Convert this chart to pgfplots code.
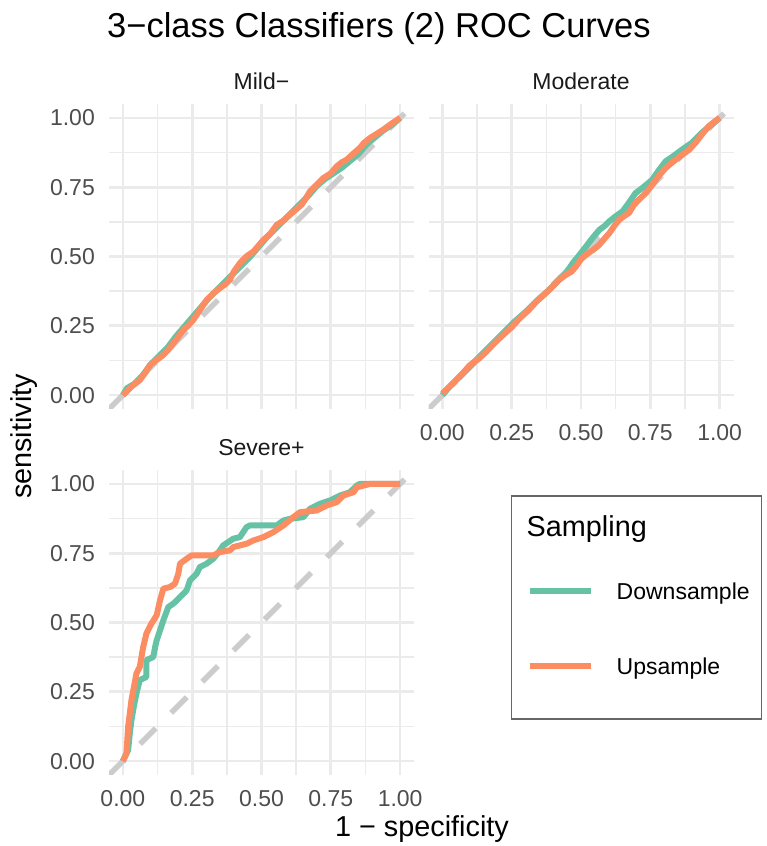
\documentclass[border=0pt]{standalone}
\usepackage{pgfplots}
\pgfplotsset{compat=1.18}
\usepackage{fontspec}
\setmainfont{Liberation Sans}
\definecolor{cgreen}{HTML}{66C2A5}
\definecolor{corange}{HTML}{FC8D62}
\definecolor{gridc}{HTML}{EBEBEB}
\definecolor{tickc}{HTML}{4D4D4D}
\definecolor{stripc}{HTML}{1A1A1A}
\definecolor{diagc}{HTML}{CCCCCC}
\definecolor{legc}{HTML}{666666}

\pgfplotsset{
 panel/.style={
  scale only axis, width=305bp, height=305bp,
  xmin=-0.05,xmax=1.05,ymin=-0.05,ymax=1.05,
  axis line style={draw=none},
  major tick length=0pt, minor tick length=0pt,
  tick style={draw=none},
  xtick={0,0.25,0.5,0.75,1}, ytick={0,0.25,0.5,0.75,1},
  minor xtick={0.125,0.375,0.625,0.875}, minor ytick={0.125,0.375,0.625,0.875},
  grid=both,
  major grid style={draw=gridc, line width=2.7bp},
  minor grid style={draw=gridc, line width=1.35bp},
  ticklabel style={font=\fontsize{23bp}{27bp}\selectfont, text=tickc, inner sep=0pt},
  xticklabel style={anchor=north, yshift=-15bp},
  yticklabel style={anchor=east, xshift=-14bp},
  xticklabels={0.00,0.25,0.50,0.75,1.00},
  yticklabels={0.00,0.25,0.50,0.75,1.00},
  every axis title/.style={at={(0.5,1)}, anchor=base, yshift=14.7bp, inner sep=0pt, font=\fontsize{23bp}{27bp}\selectfont, text=stripc},
 },
 diag/.style={draw=diagc, line width=5.5bp, dash pattern=on 22bp off 22bp, line cap=butt, forget plot},
 roc/.style={line width=6bp, line join=round, mark=none},
}

\begin{document}
\begin{tikzpicture}
\useasboundingbox (0,0) rectangle (767bp,846bp);

% Mild-
\begin{axis}[panel, at={(109bp,437bp)}, anchor=south west, xticklabels={}, title={Mild−}]
\addplot[diag] coordinates {(-0.05,-0.05) (1.05,1.05)};
\addplot[roc, cgreen] coordinates {
(0,0) (0.015,0.025) (0.04,0.04) (0.07,0.07) (0.1,0.11) (0.13,0.14) (0.16,0.17) (0.19,0.21) (0.22,0.245) (0.25,0.28) (0.28,0.315) (0.31,0.35) (0.34,0.38) (0.37,0.41) (0.40,0.44) (0.43,0.47) (0.46,0.50) (0.49,0.535) (0.52,0.57) (0.55,0.60) (0.58,0.63) (0.61,0.66) (0.64,0.69) (0.67,0.72) (0.70,0.755) (0.73,0.78) (0.76,0.80) (0.79,0.82) (0.82,0.845) (0.85,0.87) (0.88,0.905) (0.91,0.93) (0.94,0.955) (0.97,0.975) (1,1)};
\addplot[roc, corange] coordinates {
(0,0) (0.013,0.012) (0.03,0.03) (0.061,0.054) (0.08,0.08) (0.097,0.108) (0.12,0.125) (0.146,0.145) (0.165,0.165) (0.182,0.187) (0.2,0.21) (0.218,0.235) (0.235,0.25) (0.254,0.271) (0.28,0.31) (0.302,0.343) (0.33,0.37) (0.350,0.386) (0.37,0.40) (0.386,0.416) (0.40,0.445) (0.422,0.476) (0.445,0.50) (0.471,0.518) (0.49,0.54) (0.507,0.560) (0.53,0.58) (0.555,0.614) (0.58,0.63) (0.603,0.651) (0.625,0.67) (0.645,0.687) (0.66,0.71) (0.675,0.735) (0.70,0.76) (0.723,0.783) (0.75,0.80) (0.771,0.825) (0.79,0.84) (0.807,0.849) (0.83,0.87) (0.855,0.892) (0.87,0.91) (0.892,0.928) (0.92,0.945) (0.940,0.958) (0.97,0.98) (1,1)};
\end{axis}

% Moderate
\begin{axis}[panel, at={(428.5bp,437bp)}, anchor=south west, yticklabels={}, title={Moderate}]
\addplot[diag] coordinates {(-0.05,-0.05) (1.05,1.05)};
\addplot[roc, cgreen] coordinates {
(0,0) (0.03,0.035) (0.06,0.065) (0.1,0.105) (0.14,0.145) (0.18,0.185) (0.22,0.225) (0.26,0.265) (0.30,0.30) (0.34,0.34) (0.38,0.375) (0.42,0.415) (0.446,0.440) (0.47,0.476) (0.49,0.50) (0.518,0.536) (0.54,0.565) (0.566,0.596) (0.585,0.61) (0.602,0.627) (0.625,0.645) (0.650,0.663) (0.67,0.69) (0.697,0.729) (0.725,0.75) (0.757,0.777) (0.78,0.81) (0.805,0.843) (0.83,0.86) (0.865,0.886) (0.9,0.91) (0.94,0.95) (0.97,0.975) (1,1)};
\addplot[roc, corange] coordinates {
(0,0.006) (0.02,0.025) (0.039,0.042) (0.07,0.075) (0.099,0.108) (0.13,0.13) (0.159,0.157) (0.19,0.19) (0.219,0.217) (0.25,0.245) (0.279,0.277) (0.31,0.305) (0.339,0.337) (0.37,0.365) (0.398,0.392) (0.42,0.415) (0.446,0.434) (0.465,0.445) (0.482,0.464) (0.50,0.49) (0.518,0.506) (0.545,0.525) (0.566,0.542) (0.585,0.565) (0.602,0.584) (0.62,0.61) (0.638,0.633) (0.655,0.645) (0.673,0.657) (0.69,0.685) (0.709,0.705) (0.735,0.73) (0.757,0.759) (0.78,0.79) (0.805,0.819) (0.83,0.84) (0.865,0.867) (0.89,0.885) (0.913,0.910) (0.94,0.945) (0.961,0.970) (0.98,0.985) (1,1)};
\end{axis}

% Severe+
\begin{axis}[panel, at={(109bp,71bp)}, anchor=south west, title={Severe+},
  legend style={
    at={(1.318,0.918)}, anchor=north west,
    draw=legc, line width=1.5bp, fill=white,
    inner xsep=0pt, inner ysep=14.6bp,
    column sep=23bp, row sep=0pt,
    cells={anchor=west},
    nodes={inner sep=0pt, text height=46.05bp, text depth=29.55bp, font=\fontsize{23bp}{27bp}\selectfont, text width=145bp, align=left},
  },
  legend image code/.code={\path[draw=none] (-18bp,0bp) -- (0bp,0bp); \draw[line width=6bp, line cap=butt] (0bp,0bp) -- (61bp,0bp);},
]
\addlegendimage{empty legend}
\addlegendentry[anchor=base west, text height=26.4bp, text depth=16.2bp, font=\fontsize{28.8bp}{34bp}\selectfont]{\noindent\hspace*{-90bp}Sampling}
\addplot[diag] coordinates {(-0.05,-0.05) (1.05,1.05)};
\addplot[roc, cgreen] coordinates {
(0,0) (0.019,0.04) (0.025,0.10) (0.031,0.148) (0.04,0.20) (0.049,0.244) (0.061,0.292) (0.085,0.304) (0.085,0.364) (0.110,0.376) (0.116,0.41) (0.122,0.436) (0.135,0.475) (0.146,0.508) (0.164,0.556) (0.182,0.568) (0.195,0.58) (0.206,0.592) (0.220,0.605) (0.230,0.616) (0.242,0.652) (0.266,0.676) (0.278,0.70) (0.302,0.712) (0.326,0.730) (0.350,0.76) (0.362,0.778) (0.398,0.802) (0.422,0.808) (0.446,0.844) (0.458,0.85) (0.555,0.85) (0.579,0.868) (0.603,0.874) (0.651,0.88) (0.675,0.91) (0.711,0.928) (0.747,0.94) (0.783,0.958) (0.819,0.97) (0.844,0.994) (0.856,1) (1,1)};
\addlegendentry{Downsample}
\addplot[roc, corange] coordinates {
(0,0) (0.013,0.028) (0.019,0.124) (0.031,0.22) (0.049,0.316) (0.061,0.34) (0.073,0.41) (0.085,0.46) (0.103,0.496) (0.122,0.526) (0.134,0.58) (0.146,0.622) (0.170,0.628) (0.188,0.64) (0.200,0.676) (0.206,0.712) (0.230,0.73) (0.248,0.742) (0.326,0.742) (0.350,0.754) (0.386,0.76) (0.398,0.772) (0.446,0.784) (0.471,0.796) (0.507,0.808) (0.543,0.826) (0.579,0.85) (0.615,0.88) (0.639,0.898) (0.699,0.904) (0.735,0.922) (0.771,0.934) (0.795,0.958) (0.832,0.97) (0.844,0.988) (0.892,1) (1,1)};
\addlegendentry{Upsample}
\end{axis}

\node[anchor=base west, inner sep=0pt, font=\fontsize{34.5bp}{40bp}\selectfont] at (107bp,808bp) {3−class Classifiers (2) ROC Curves};
\node[anchor=base, inner sep=0pt, rotate=90, font=\fontsize{28.8bp}{34bp}\selectfont] at (31bp,409.5bp) {sensitivity};
\node[anchor=base, inner sep=0pt, font=\fontsize{28.8bp}{34bp}\selectfont] at (422bp,10bp) {1 − specificity};
\end{tikzpicture}
\end{document}
